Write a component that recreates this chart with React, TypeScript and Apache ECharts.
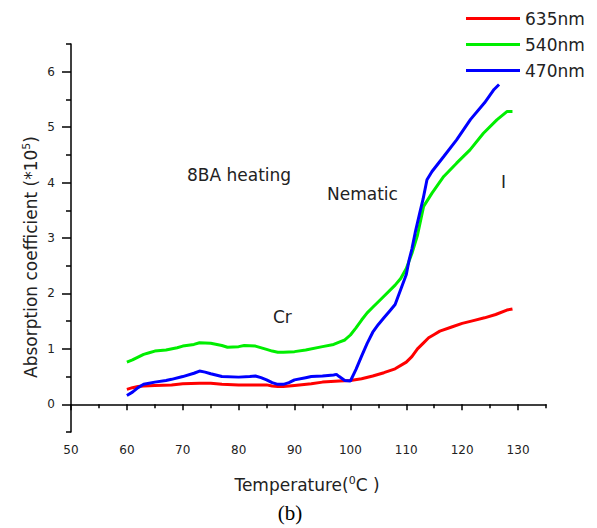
import React, { useEffect, useRef } from "react";
import * as echarts from "echarts";

const seriesNames = ["635nm", "540nm", "470nm"];

const redT = [60, 61, 62, 63, 65, 68, 70, 73, 75, 77, 80, 83, 85, 86, 87, 88, 90, 93, 95, 98, 100, 102, 104, 106, 108, 110, 111, 112, 113, 114, 115, 116, 118, 120, 122, 124, 126, 128, 129];
const redA = [0.27, 0.3, 0.32, 0.33, 0.34, 0.35, 0.37, 0.38, 0.38, 0.36, 0.35, 0.35, 0.35, 0.33, 0.32, 0.32, 0.34, 0.37, 0.4, 0.42, 0.43, 0.46, 0.51, 0.57, 0.64, 0.76, 0.86, 1.0, 1.1, 1.2, 1.26, 1.32, 1.39, 1.46, 1.51, 1.56, 1.62, 1.7, 1.72];

const greenT = [60, 61, 62, 63, 64, 65, 67, 69, 70, 72, 73, 75, 77, 78, 80, 81, 83, 85, 86, 87, 88, 90, 92, 95, 97, 98, 99, 100, 101, 102, 103, 104, 106, 108, 109, 110, 111, 112, 113.1, 114.6, 116.7, 119, 121.4, 123.8, 126.2, 128, 129];
const greenA = [0.76, 0.8, 0.85, 0.9, 0.93, 0.96, 0.98, 1.02, 1.05, 1.08, 1.11, 1.1, 1.06, 1.03, 1.04, 1.06, 1.05, 0.99, 0.96, 0.94, 0.94, 0.95, 0.98, 1.04, 1.08, 1.12, 1.16, 1.25, 1.38, 1.52, 1.65, 1.75, 1.95, 2.15, 2.27, 2.45, 2.72, 3.05, 3.57, 3.81, 4.11, 4.35, 4.59, 4.89, 5.13, 5.28, 5.28];

const blueT = [60, 61, 62, 63, 64, 65, 67, 68, 70, 72, 73, 74, 75, 77, 80, 82, 83, 84, 85, 86, 87, 88, 89, 90, 92, 93, 95, 97, 97.5, 98, 99, 100, 101, 102, 103, 104, 105, 106, 107, 108, 109, 110, 110.5, 111, 111.6, 112.4, 113, 113.7, 114.6, 116.7, 119, 121.5, 124, 125.7, 126.6];
const blueA = [0.16, 0.22, 0.3, 0.36, 0.38, 0.4, 0.43, 0.45, 0.5, 0.56, 0.6, 0.58, 0.55, 0.5, 0.49, 0.5, 0.51, 0.48, 0.44, 0.39, 0.36, 0.36, 0.39, 0.44, 0.48, 0.5, 0.51, 0.53, 0.54, 0.5, 0.43, 0.42, 0.63, 0.87, 1.1, 1.3, 1.44, 1.56, 1.68, 1.8, 2.07, 2.34, 2.6, 2.8, 3.1, 3.45, 3.7, 4.05, 4.2, 4.47, 4.77, 5.14, 5.44, 5.68, 5.77];

const xMajorTicks = [50, 60, 70, 80, 90, 100, 110, 120, 130];
const xMinorTicks = [55, 65, 75, 85, 95, 105, 115, 125, 135];
const yMajorTicks = [0, 1, 2, 3, 4, 5, 6];
const yMinorTicks = [-0.5, 0.5, 1.5, 2.5, 3.5, 4.5, 5.5, 6.5];

const annotations = [
  { text: "8BA heating", x: 187, y: 175 },
  { text: "Nematic", x: 327, y: 194 },
  { text: "I", x: 501, y: 182 },
  { text: "Cr", x: 273, y: 317 },
];

const FONT = "DejaVu Sans";
const TXT = "#222";

export default function App() {
  const ref = useRef<HTMLDivElement>(null);
  useEffect(() => {
    const chart = echarts.init(ref.current!, null, { renderer: "svg" });
    const pairs = (t: number[], a: number[]) => t.map((v, i) => [v, a[i]]);
    const axisLine = { show: true, lineStyle: { color: "#000", width: 1.5 } };
    chart.setOption({
      animation: false,
      grid: { left: 71, top: 44, width: 475, height: 388 },
      legend: {
        orient: "vertical",
        left: 461,
        top: 5,
        icon: "rect",
        itemWidth: 54,
        itemHeight: 3,
        itemGap: 9,
        data: seriesNames,
        textStyle: { fontFamily: FONT, fontSize: 17, lineHeight: 17, color: TXT },
      },
      xAxis: [
        {
          type: "value",
          min: 50,
          max: 135,
          axisLine,
          splitLine: { show: false },
          axisTick: { show: true, customValues: xMajorTicks, length: 6, inside: false, lineStyle: { color: "#000", width: 1.5 } },
          axisLabel: { customValues: xMajorTicks, margin: 12, fontFamily: FONT, fontSize: 12, color: TXT },
        },
        {
          type: "value",
          position: "bottom",
          min: 50,
          max: 135,
          axisLine: { show: false },
          splitLine: { show: false },
          axisTick: { show: true, customValues: xMinorTicks, length: 4, lineStyle: { color: "#000", width: 1.5 } },
          axisLabel: { show: false },
        },
      ],
      yAxis: [
        {
          type: "value",
          min: -0.5,
          max: 6.5,
          axisLine,
          splitLine: { show: false },
          axisTick: { show: true, customValues: yMajorTicks, length: 9, lineStyle: { color: "#000", width: 1.5 } },
          axisLabel: { customValues: yMajorTicks, margin: 16, fontFamily: FONT, fontSize: 12, color: TXT },
        },
        {
          type: "value",
          position: "left",
          min: -0.5,
          max: 6.5,
          axisLine: { show: false },
          splitLine: { show: false },
          axisTick: { show: true, customValues: yMinorTicks, length: 5, lineStyle: { color: "#000", width: 1.5 } },
          axisLabel: { show: false },
        },
      ],
      series: [
        { name: seriesNames[0], type: "line", data: pairs(redT, redA), color: "#ff0000" },
        { name: seriesNames[1], type: "line", data: pairs(greenT, greenA), color: "#00ee00" },
        { name: seriesNames[2], type: "line", data: pairs(blueT, blueA), color: "#0000ff" },
      ].map((s) => ({ ...s, showSymbol: false, smooth: false, lineStyle: { width: 3, color: s.color }, itemStyle: { color: s.color } })),
      graphic: [
        ...annotations.map((a) => ({
          type: "text",
          x: a.x,
          y: a.y,
          style: { text: a.text, fontFamily: FONT, fontSize: 17, fill: TXT, verticalAlign: "middle" },
        })),
        {
          type: "text",
          x: 31,
          y: 257,
          rotation: Math.PI / 2,
          style: {
            text: "{n|Absorption coefficient (*10}{s|5}{n|)}",
            align: "center",
            verticalAlign: "middle",
            rich: {
              n: { fontFamily: FONT, fontSize: 17, fill: TXT, lineHeight: 20 },
              s: { fontFamily: FONT, fontSize: 11, fill: TXT, lineHeight: 20, padding: [0, 0, 10, 0] },
            },
          },
        },
        {
          type: "text",
          x: 307,
          y: 485,
          style: {
            text: "{n|Temperature(}{s|0}{n|C )}",
            align: "center",
            verticalAlign: "middle",
            rich: {
              n: { fontFamily: FONT, fontSize: 17, fill: TXT, lineHeight: 20 },
              s: { fontFamily: FONT, fontSize: 11, fill: TXT, lineHeight: 20, padding: [0, 0, 10, 0] },
            },
          },
        },
        {
          type: "text",
          x: 290,
          y: 513,
          style: { text: "(b)", fontFamily: "Liberation Serif", fontSize: 21, fill: "#000", align: "center", verticalAlign: "middle" },
        },
      ],
    });
    return () => chart.dispose();
  }, []);
  return <div ref={ref} style={{ position: "fixed", left: 0, top: 0, width: 597, height: 528, background: "#fff" }} />;
}
